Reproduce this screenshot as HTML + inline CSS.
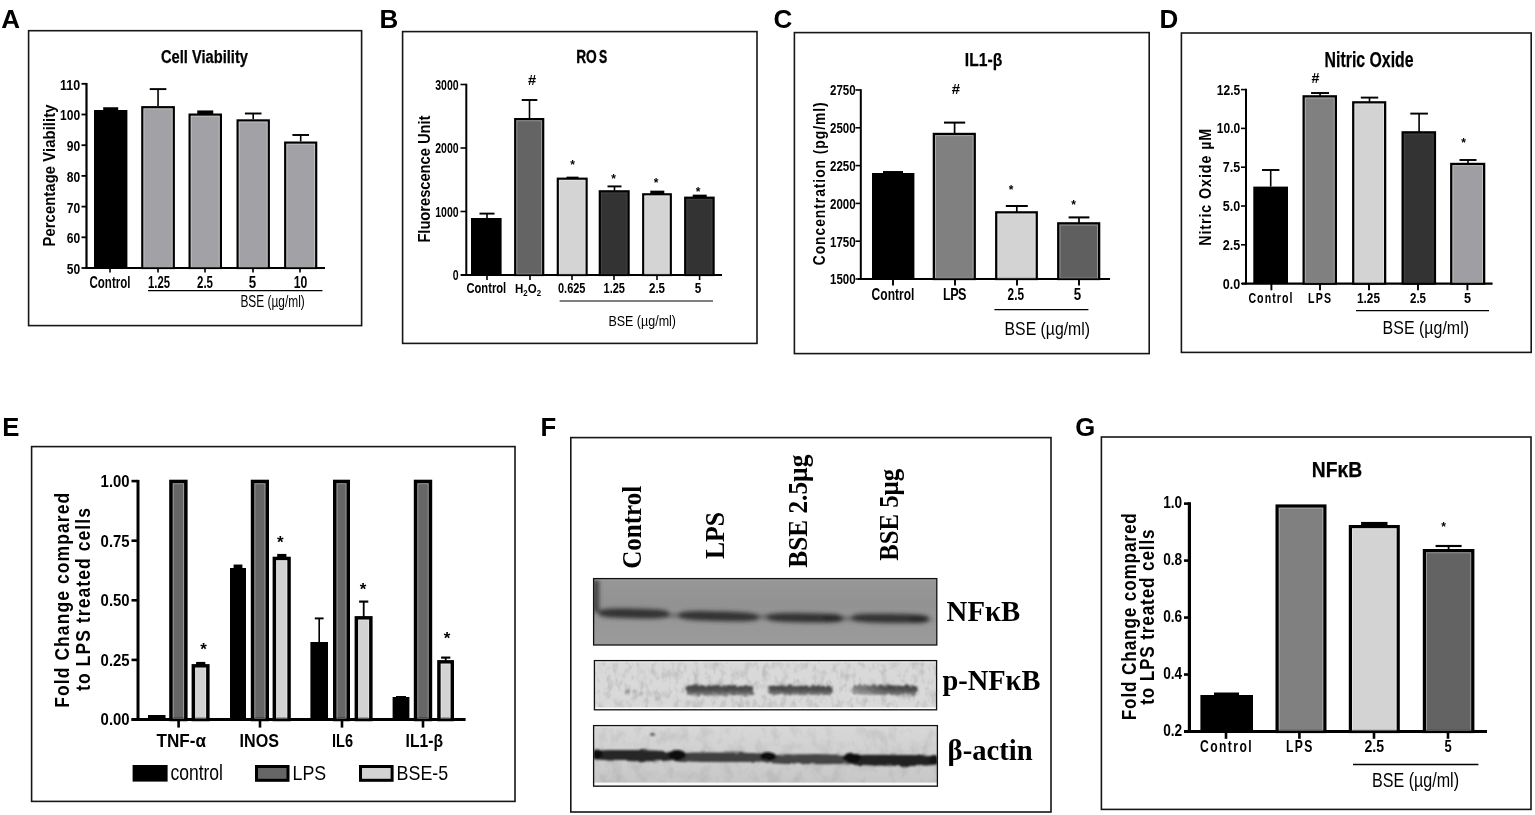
<!DOCTYPE html><html><head><meta charset="utf-8"><title>Figure</title>
<style>html,body{margin:0;padding:0;background:#fff;overflow:hidden}svg{display:block}</style></head><body>
<svg width="1535" height="815" viewBox="0 0 1535 815">
<defs>
<filter id="blur1" x="-20%" y="-50%" width="140%" height="200%"><feGaussianBlur stdDeviation="1.6"/></filter>
<filter id="blur2" x="-20%" y="-80%" width="140%" height="260%"><feGaussianBlur stdDeviation="2.2"/></filter>
<filter id="blur3" x="-20%" y="-80%" width="140%" height="260%"><feGaussianBlur stdDeviation="1.0"/></filter>
<filter id="noise1" x="0" y="0" width="100%" height="100%">
  <feTurbulence type="fractalNoise" baseFrequency="0.16 0.1" numOctaves="3" seed="7" result="n"/>
  <feColorMatrix type="matrix" values="0 0 0 0 0  0 0 0 0 0  0 0 0 0 0  0 0 0 -0.9 0.5" />
</filter>
<filter id="noise2" x="0" y="0" width="100%" height="100%">
  <feTurbulence type="fractalNoise" baseFrequency="0.09 0.07" numOctaves="3" seed="3" result="n"/>
  <feColorMatrix type="matrix" values="0 0 0 0 0  0 0 0 0 0  0 0 0 0 0  0 0 0 -0.9 0.5" />
</filter>
<filter id="rough" x="-5%" y="-60%" width="110%" height="220%">
  <feTurbulence type="fractalNoise" baseFrequency="0.25 0.45" numOctaves="2" seed="5" result="t"/>
  <feDisplacementMap in="SourceGraphic" in2="t" scale="5" xChannelSelector="R" yChannelSelector="G" result="d"/>
  <feGaussianBlur in="d" stdDeviation="0.9"/>
</filter>
<filter id="rough2" x="-5%" y="-60%" width="110%" height="220%">
  <feTurbulence type="fractalNoise" baseFrequency="0.08 0.3" numOctaves="2" seed="9" result="t"/>
  <feDisplacementMap in="SourceGraphic" in2="t" scale="3" xChannelSelector="R" yChannelSelector="G" result="d"/>
  <feGaussianBlur in="d" stdDeviation="1.1"/>
</filter>
<filter id="speck" x="-10%" y="-50%" width="120%" height="200%">
  <feTurbulence type="fractalNoise" baseFrequency="0.35 0.25" numOctaves="1" seed="11" result="n"/>
  <feComposite in="SourceGraphic" in2="n" operator="arithmetic" k1="1.6" k2="0" k3="0" k4="0" result="m"/>
  <feGaussianBlur in="m" stdDeviation="0.6"/>
</filter>
<clipPath id="cNF"><rect x="594.2" y="579.2" width="342" height="65.2"/></clipPath>
<clipPath id="cPN"><rect x="595" y="661.2" width="341" height="48"/></clipPath>
<clipPath id="cBA"><rect x="594.2" y="726.2" width="342.6" height="59.4"/></clipPath>
</defs>
<rect x="0" y="0" width="1535" height="815" fill="#fff"/>
<rect x="28.6" y="30.7" width="333.0" height="294.90000000000003" fill="none" stroke="#161616" stroke-width="1.6"/>
<text x="1.35" y="27.8" font-family="'Liberation Sans', Arial, sans-serif" font-size="26" font-weight="bold" fill="#000">A</text>
<text x="161" y="62.8" font-family="'Liberation Sans', Arial, sans-serif" font-size="19" font-weight="bold" fill="#000" textLength="87" lengthAdjust="spacingAndGlyphs" stroke="#000" stroke-width="0.25">Cell Viability</text>
<line x1="86.5" y1="83.00000000000001" x2="86.5" y2="269" stroke="#000" stroke-width="2.2" stroke-linecap="butt"/>
<line x1="81.5" y1="268.0" x2="86.5" y2="268.0" stroke="#000" stroke-width="1.8" stroke-linecap="butt"/>
<text x="80.2" y="273.9" font-family="'Liberation Sans', Arial, sans-serif" font-size="15.2" font-weight="bold" fill="#000" text-anchor="end" textLength="13.4" lengthAdjust="spacingAndGlyphs">50</text>
<line x1="81.5" y1="237.3" x2="86.5" y2="237.3" stroke="#000" stroke-width="1.8" stroke-linecap="butt"/>
<text x="80.2" y="243.20000000000002" font-family="'Liberation Sans', Arial, sans-serif" font-size="15.2" font-weight="bold" fill="#000" text-anchor="end" textLength="13.4" lengthAdjust="spacingAndGlyphs">60</text>
<line x1="81.5" y1="206.6" x2="86.5" y2="206.6" stroke="#000" stroke-width="1.8" stroke-linecap="butt"/>
<text x="80.2" y="212.5" font-family="'Liberation Sans', Arial, sans-serif" font-size="15.2" font-weight="bold" fill="#000" text-anchor="end" textLength="13.4" lengthAdjust="spacingAndGlyphs">70</text>
<line x1="81.5" y1="175.9" x2="86.5" y2="175.9" stroke="#000" stroke-width="1.8" stroke-linecap="butt"/>
<text x="80.2" y="181.8" font-family="'Liberation Sans', Arial, sans-serif" font-size="15.2" font-weight="bold" fill="#000" text-anchor="end" textLength="13.4" lengthAdjust="spacingAndGlyphs">80</text>
<line x1="81.5" y1="145.2" x2="86.5" y2="145.2" stroke="#000" stroke-width="1.8" stroke-linecap="butt"/>
<text x="80.2" y="151.1" font-family="'Liberation Sans', Arial, sans-serif" font-size="15.2" font-weight="bold" fill="#000" text-anchor="end" textLength="13.4" lengthAdjust="spacingAndGlyphs">90</text>
<line x1="81.5" y1="114.5" x2="86.5" y2="114.5" stroke="#000" stroke-width="1.8" stroke-linecap="butt"/>
<text x="80.2" y="120.4" font-family="'Liberation Sans', Arial, sans-serif" font-size="15.2" font-weight="bold" fill="#000" text-anchor="end" textLength="20.1" lengthAdjust="spacingAndGlyphs">100</text>
<line x1="81.5" y1="83.80000000000001" x2="86.5" y2="83.80000000000001" stroke="#000" stroke-width="1.8" stroke-linecap="butt"/>
<text x="80.2" y="89.70000000000002" font-family="'Liberation Sans', Arial, sans-serif" font-size="15.2" font-weight="bold" fill="#000" text-anchor="end" textLength="20.1" lengthAdjust="spacingAndGlyphs">110</text>
<line x1="85.5" y1="268" x2="325" y2="268" stroke="#000" stroke-width="2.2" stroke-linecap="butt"/>
<rect x="94" y="110" width="33.4" height="158" fill="#000"/>
<rect x="103.2" y="107.24" width="15.0" height="3.26" fill="#000"/>
<line x1="158.05" y1="106.1" x2="158.05" y2="89.1" stroke="#000" stroke-width="1.6" stroke-linecap="butt"/>
<line x1="149.75" y1="89.1" x2="166.35000000000002" y2="89.1" stroke="#000" stroke-width="1.92" stroke-linecap="butt"/>
<rect x="142.3" y="107.2" width="31.5" height="160.8" fill="#a1a1a6" stroke="#000" stroke-width="2.2"/>
<rect x="143.90" y="108.80" width="28.30" height="158.20" fill="none" stroke="#fff" stroke-opacity="0.35" stroke-width="1"/>
<rect x="197.25" y="110.44" width="16" height="3.56" fill="#000"/>
<rect x="189.6" y="114.6" width="31.3" height="153.4" fill="#a1a1a6" stroke="#000" stroke-width="2.2"/>
<rect x="191.20" y="116.20" width="28.10" height="150.80" fill="none" stroke="#fff" stroke-opacity="0.35" stroke-width="1"/>
<line x1="253.2" y1="119.3" x2="253.2" y2="113.5" stroke="#000" stroke-width="1.6" stroke-linecap="butt"/>
<line x1="244.89999999999998" y1="113.5" x2="261.5" y2="113.5" stroke="#000" stroke-width="1.92" stroke-linecap="butt"/>
<rect x="237.6" y="120.4" width="31.2" height="147.6" fill="#a1a1a6" stroke="#000" stroke-width="2.2"/>
<rect x="239.20" y="122.00" width="28.00" height="145.00" fill="none" stroke="#fff" stroke-opacity="0.35" stroke-width="1"/>
<line x1="300.70000000000005" y1="141.5" x2="300.70000000000005" y2="135" stroke="#000" stroke-width="1.6" stroke-linecap="butt"/>
<line x1="292.40000000000003" y1="135" x2="309.00000000000006" y2="135" stroke="#000" stroke-width="1.92" stroke-linecap="butt"/>
<rect x="285.2" y="142.6" width="31.0" height="125.4" fill="#a1a1a6" stroke="#000" stroke-width="2.2"/>
<rect x="286.80" y="144.20" width="27.80" height="122.80" fill="none" stroke="#fff" stroke-opacity="0.35" stroke-width="1"/>
<line x1="110" y1="268" x2="110" y2="272.5" stroke="#000" stroke-width="1.6" stroke-linecap="butt"/>
<line x1="158" y1="268" x2="158" y2="272.5" stroke="#000" stroke-width="1.6" stroke-linecap="butt"/>
<line x1="205" y1="268" x2="205" y2="272.5" stroke="#000" stroke-width="1.6" stroke-linecap="butt"/>
<line x1="253" y1="268" x2="253" y2="272.5" stroke="#000" stroke-width="1.6" stroke-linecap="butt"/>
<line x1="300" y1="268" x2="300" y2="272.5" stroke="#000" stroke-width="1.6" stroke-linecap="butt"/>
<text x="110" y="287.7" font-family="'Liberation Sans', Arial, sans-serif" font-size="15.6" font-weight="bold" fill="#000" text-anchor="middle" textLength="41" lengthAdjust="spacingAndGlyphs">Control</text>
<text x="159" y="287.7" font-family="'Liberation Sans', Arial, sans-serif" font-size="15.6" font-weight="bold" fill="#000" text-anchor="middle" textLength="22" lengthAdjust="spacingAndGlyphs">1.25</text>
<text x="205" y="287.7" font-family="'Liberation Sans', Arial, sans-serif" font-size="15.6" font-weight="bold" fill="#000" text-anchor="middle" textLength="16" lengthAdjust="spacingAndGlyphs">2.5</text>
<text x="252.5" y="287.7" font-family="'Liberation Sans', Arial, sans-serif" font-size="15.6" font-weight="bold" fill="#000" text-anchor="middle" textLength="7.4" lengthAdjust="spacingAndGlyphs">5</text>
<text x="300.5" y="287.7" font-family="'Liberation Sans', Arial, sans-serif" font-size="15.6" font-weight="bold" fill="#000" text-anchor="middle" textLength="13.6" lengthAdjust="spacingAndGlyphs">10</text>
<line x1="148" y1="290.6" x2="322.4" y2="290.6" stroke="#000" stroke-width="1.2" stroke-linecap="butt"/>
<text x="240.4" y="306.6" font-family="'Liberation Sans', Arial, sans-serif" font-size="15.6" font-weight="normal" fill="#000" textLength="64.4" lengthAdjust="spacingAndGlyphs">BSE (µg/ml)</text>
<text transform="translate(55.2,246.5) rotate(-90) scale(0.9,1)" x="0" y="0" font-family="'Liberation Sans', Arial, sans-serif" font-size="16.4" font-weight="bold" fill="#000" textLength="157.78" lengthAdjust="spacing">Percentage Viability</text>
<rect x="402.6" y="31.6" width="354.4" height="311.79999999999995" fill="none" stroke="#161616" stroke-width="1.6"/>
<text x="379.5" y="27.8" font-family="'Liberation Sans', Arial, sans-serif" font-size="26" font-weight="bold" fill="#000">B</text>
<text x="576.2" y="62.6" font-family="'Liberation Sans', Arial, sans-serif" font-size="17.6" font-weight="bold" fill="#000" textLength="20.6" lengthAdjust="spacingAndGlyphs" stroke="#000" stroke-width="0.35">RO</text>
<text x="598.9" y="62.6" font-family="'Liberation Sans', Arial, sans-serif" font-size="17.6" font-weight="bold" fill="#000" textLength="8.2" lengthAdjust="spacingAndGlyphs" stroke="#000" stroke-width="0.35">S</text>
<line x1="466.3" y1="83.7" x2="466.3" y2="276" stroke="#000" stroke-width="2" stroke-linecap="butt"/>
<line x1="460.5" y1="275.0" x2="466.3" y2="275.0" stroke="#000" stroke-width="1.6" stroke-linecap="butt"/>
<text x="458.6" y="280.1" font-family="'Liberation Sans', Arial, sans-serif" font-size="14.2" font-weight="bold" fill="#000" text-anchor="end" textLength="5.85" lengthAdjust="spacingAndGlyphs">0</text>
<line x1="460.5" y1="211.5" x2="466.3" y2="211.5" stroke="#000" stroke-width="1.6" stroke-linecap="butt"/>
<text x="458.6" y="216.6" font-family="'Liberation Sans', Arial, sans-serif" font-size="14.2" font-weight="bold" fill="#000" text-anchor="end" textLength="23.4" lengthAdjust="spacingAndGlyphs">1000</text>
<line x1="460.5" y1="148.0" x2="466.3" y2="148.0" stroke="#000" stroke-width="1.6" stroke-linecap="butt"/>
<text x="458.6" y="153.1" font-family="'Liberation Sans', Arial, sans-serif" font-size="14.2" font-weight="bold" fill="#000" text-anchor="end" textLength="23.4" lengthAdjust="spacingAndGlyphs">2000</text>
<line x1="460.5" y1="84.5" x2="466.3" y2="84.5" stroke="#000" stroke-width="1.6" stroke-linecap="butt"/>
<text x="458.6" y="89.6" font-family="'Liberation Sans', Arial, sans-serif" font-size="14.2" font-weight="bold" fill="#000" text-anchor="end" textLength="23.4" lengthAdjust="spacingAndGlyphs">3000</text>
<line x1="461" y1="275" x2="722" y2="275" stroke="#000" stroke-width="2" stroke-linecap="butt"/>
<rect x="471" y="218" width="30.6" height="57" fill="#000"/>
<line x1="487" y1="218" x2="487" y2="213.6" stroke="#000" stroke-width="1.6" stroke-linecap="butt"/>
<line x1="479.5" y1="213.6" x2="494.5" y2="213.6" stroke="#000" stroke-width="1.92" stroke-linecap="butt"/>
<line x1="529.5" y1="118.8" x2="529.5" y2="100" stroke="#000" stroke-width="1.6" stroke-linecap="butt"/>
<line x1="521.7" y1="100" x2="537.3" y2="100" stroke="#000" stroke-width="1.92" stroke-linecap="butt"/>
<rect x="515.2" y="119.1" width="28.0" height="155.9" fill="#646464" stroke="#000" stroke-width="2.2"/>
<rect x="516.80" y="120.70" width="24.80" height="153.30" fill="none" stroke="#fff" stroke-opacity="0.35" stroke-width="1"/>
<rect x="566.5" y="176.64" width="12" height="2.26" fill="#000"/>
<rect x="557.8" y="178.7" width="28.8" height="96.3" fill="#d4d4d4" stroke="#000" stroke-width="2.2"/>
<rect x="559.40" y="180.30" width="25.60" height="93.70" fill="none" stroke="#fff" stroke-opacity="0.35" stroke-width="1"/>
<line x1="614.5" y1="191" x2="614.5" y2="186.4" stroke="#000" stroke-width="1.6" stroke-linecap="butt"/>
<line x1="607.5" y1="186.4" x2="621.5" y2="186.4" stroke="#000" stroke-width="1.92" stroke-linecap="butt"/>
<rect x="599.8" y="191.3" width="28.8" height="83.7" fill="#333333" stroke="#000" stroke-width="2.2"/>
<rect x="601.40" y="192.90" width="25.60" height="81.10" fill="none" stroke="#fff" stroke-opacity="0.08" stroke-width="1"/>
<rect x="650.3" y="190.64" width="14" height="3.86" fill="#000"/>
<rect x="643.2" y="194.3" width="27.6" height="80.7" fill="#d4d4d4" stroke="#000" stroke-width="2.2"/>
<rect x="644.80" y="195.90" width="24.40" height="78.10" fill="none" stroke="#fff" stroke-opacity="0.35" stroke-width="1"/>
<rect x="692.7" y="194.64" width="14" height="3.26" fill="#000"/>
<rect x="685.2" y="197.7" width="28.4" height="77.3" fill="#333333" stroke="#000" stroke-width="2.2"/>
<rect x="686.80" y="199.30" width="25.20" height="74.70" fill="none" stroke="#fff" stroke-opacity="0.08" stroke-width="1"/>
<line x1="487" y1="275" x2="487" y2="280" stroke="#000" stroke-width="1.6" stroke-linecap="butt"/>
<line x1="530" y1="275" x2="530" y2="280" stroke="#000" stroke-width="1.6" stroke-linecap="butt"/>
<line x1="572" y1="275" x2="572" y2="280" stroke="#000" stroke-width="1.6" stroke-linecap="butt"/>
<line x1="614" y1="275" x2="614" y2="280" stroke="#000" stroke-width="1.6" stroke-linecap="butt"/>
<line x1="657" y1="275" x2="657" y2="280" stroke="#000" stroke-width="1.6" stroke-linecap="butt"/>
<line x1="699.6" y1="275" x2="699.6" y2="280" stroke="#000" stroke-width="1.6" stroke-linecap="butt"/>
<text x="532" y="84.6" font-family="'Liberation Sans', Arial, sans-serif" font-size="14.6" font-weight="bold" fill="#000" text-anchor="middle">#</text>
<text x="572.6" y="169.4" font-family="'Liberation Sans', Arial, sans-serif" font-size="12" font-weight="bold" fill="#000" text-anchor="middle">*</text>
<text x="613.6" y="183.4" font-family="'Liberation Sans', Arial, sans-serif" font-size="12" font-weight="bold" fill="#000" text-anchor="middle">*</text>
<text x="656" y="186.8" font-family="'Liberation Sans', Arial, sans-serif" font-size="12" font-weight="bold" fill="#000" text-anchor="middle">*</text>
<text x="698" y="196.4" font-family="'Liberation Sans', Arial, sans-serif" font-size="12" font-weight="bold" fill="#000" text-anchor="middle">*</text>
<text x="486.3" y="293.2" font-family="'Liberation Sans', Arial, sans-serif" font-size="14.2" font-weight="bold" fill="#000" text-anchor="middle" textLength="39.8" lengthAdjust="spacingAndGlyphs">Control</text>
<text x="515" y="293.4" font-family="'Liberation Sans', Arial, sans-serif" font-size="13.2" font-weight="bold" textLength="26" lengthAdjust="spacingAndGlyphs">H<tspan font-size="9" dy="2.5">2</tspan><tspan dy="-2.5">O</tspan><tspan font-size="9" dy="2.5">2</tspan></text>
<text x="571.7" y="293.2" font-family="'Liberation Sans', Arial, sans-serif" font-size="14.2" font-weight="bold" fill="#000" text-anchor="middle" textLength="27.4" lengthAdjust="spacingAndGlyphs">0.625</text>
<text x="614.3" y="293.2" font-family="'Liberation Sans', Arial, sans-serif" font-size="14.2" font-weight="bold" fill="#000" text-anchor="middle" textLength="21.4" lengthAdjust="spacingAndGlyphs">1.25</text>
<text x="657" y="293.2" font-family="'Liberation Sans', Arial, sans-serif" font-size="14.2" font-weight="bold" fill="#000" text-anchor="middle" textLength="16" lengthAdjust="spacingAndGlyphs">2.5</text>
<text x="698" y="293.2" font-family="'Liberation Sans', Arial, sans-serif" font-size="14.2" font-weight="bold" fill="#000" text-anchor="middle" textLength="6.5" lengthAdjust="spacingAndGlyphs">5</text>
<line x1="559.6" y1="301" x2="713" y2="301" stroke="#000" stroke-width="1.2" stroke-linecap="butt"/>
<text x="608.4" y="325.9" font-family="'Liberation Sans', Arial, sans-serif" font-size="15.4" font-weight="normal" fill="#000" textLength="67.6" lengthAdjust="spacingAndGlyphs">BSE (µg/ml)</text>
<text transform="translate(429.8,242.6) rotate(-90) scale(0.9,1)" x="0" y="0" font-family="'Liberation Sans', Arial, sans-serif" font-size="16.4" font-weight="bold" fill="#000" textLength="141.11" lengthAdjust="spacing">Fluorescence Unit</text>
<rect x="794.4" y="32.6" width="354.80000000000007" height="321.0" fill="none" stroke="#161616" stroke-width="1.6"/>
<text x="773.6" y="27.8" font-family="'Liberation Sans', Arial, sans-serif" font-size="26" font-weight="bold" fill="#000">C</text>
<text x="964.8" y="66.3" font-family="'Liberation Sans', Arial, sans-serif" font-size="18.6" font-weight="bold" fill="#000" textLength="37.4" lengthAdjust="spacingAndGlyphs" stroke="#000" stroke-width="0.25">IL1-β</text>
<line x1="860.8" y1="89.2" x2="860.8" y2="280" stroke="#000" stroke-width="2" stroke-linecap="butt"/>
<line x1="855.5" y1="279.0" x2="860.8" y2="279.0" stroke="#000" stroke-width="1.6" stroke-linecap="butt"/>
<text x="855.6" y="284.4" font-family="'Liberation Sans', Arial, sans-serif" font-size="14.7" font-weight="bold" fill="#000" text-anchor="end" textLength="25.6" lengthAdjust="spacingAndGlyphs">1500</text>
<line x1="855.5" y1="241.2" x2="860.8" y2="241.2" stroke="#000" stroke-width="1.6" stroke-linecap="butt"/>
<text x="855.6" y="246.6" font-family="'Liberation Sans', Arial, sans-serif" font-size="14.7" font-weight="bold" fill="#000" text-anchor="end" textLength="25.6" lengthAdjust="spacingAndGlyphs">1750</text>
<line x1="855.5" y1="203.4" x2="860.8" y2="203.4" stroke="#000" stroke-width="1.6" stroke-linecap="butt"/>
<text x="855.6" y="208.8" font-family="'Liberation Sans', Arial, sans-serif" font-size="14.7" font-weight="bold" fill="#000" text-anchor="end" textLength="25.6" lengthAdjust="spacingAndGlyphs">2000</text>
<line x1="855.5" y1="165.60000000000002" x2="860.8" y2="165.60000000000002" stroke="#000" stroke-width="1.6" stroke-linecap="butt"/>
<text x="855.6" y="171.00000000000003" font-family="'Liberation Sans', Arial, sans-serif" font-size="14.7" font-weight="bold" fill="#000" text-anchor="end" textLength="25.6" lengthAdjust="spacingAndGlyphs">2250</text>
<line x1="855.5" y1="127.80000000000001" x2="860.8" y2="127.80000000000001" stroke="#000" stroke-width="1.6" stroke-linecap="butt"/>
<text x="855.6" y="133.20000000000002" font-family="'Liberation Sans', Arial, sans-serif" font-size="14.7" font-weight="bold" fill="#000" text-anchor="end" textLength="25.6" lengthAdjust="spacingAndGlyphs">2500</text>
<line x1="855.5" y1="90.0" x2="860.8" y2="90.0" stroke="#000" stroke-width="1.6" stroke-linecap="butt"/>
<text x="855.6" y="95.4" font-family="'Liberation Sans', Arial, sans-serif" font-size="14.7" font-weight="bold" fill="#000" text-anchor="end" textLength="25.6" lengthAdjust="spacingAndGlyphs">2750</text>
<line x1="858" y1="279" x2="1110" y2="279" stroke="#000" stroke-width="2.2" stroke-linecap="butt"/>
<rect x="872" y="173" width="42.4" height="106" fill="#000"/>
<rect x="883" y="171.04" width="20" height="2.46" fill="#000"/>
<line x1="954.6" y1="133.6" x2="954.6" y2="122.6" stroke="#000" stroke-width="1.7" stroke-linecap="butt"/>
<line x1="944.0" y1="122.6" x2="965.2" y2="122.6" stroke="#000" stroke-width="2.04" stroke-linecap="butt"/>
<rect x="933.85" y="133.95" width="40.9" height="145.05" fill="#808080" stroke="#000" stroke-width="2.3"/>
<rect x="935.50" y="135.60" width="37.60" height="142.40" fill="none" stroke="#fff" stroke-opacity="0.35" stroke-width="1"/>
<line x1="1016.8" y1="212" x2="1016.8" y2="206" stroke="#000" stroke-width="1.7" stroke-linecap="butt"/>
<line x1="1005.8" y1="206" x2="1027.8" y2="206" stroke="#000" stroke-width="2.04" stroke-linecap="butt"/>
<rect x="996.25" y="212.35" width="40.5" height="66.65" fill="#d3d3d3" stroke="#000" stroke-width="2.3"/>
<rect x="997.90" y="214.00" width="37.20" height="64.00" fill="none" stroke="#fff" stroke-opacity="0.35" stroke-width="1"/>
<line x1="1079.0" y1="223" x2="1079.0" y2="217.4" stroke="#000" stroke-width="1.7" stroke-linecap="butt"/>
<line x1="1068.6" y1="217.4" x2="1089.4" y2="217.4" stroke="#000" stroke-width="2.04" stroke-linecap="butt"/>
<rect x="1058.25" y="223.35" width="40.9" height="55.65" fill="#5f5f5f" stroke="#000" stroke-width="2.3"/>
<rect x="1059.90" y="225.00" width="37.60" height="53.00" fill="none" stroke="#fff" stroke-opacity="0.35" stroke-width="1"/>
<line x1="893" y1="279" x2="893" y2="285.5" stroke="#000" stroke-width="1.9" stroke-linecap="butt"/>
<line x1="955" y1="279" x2="955" y2="285.5" stroke="#000" stroke-width="1.9" stroke-linecap="butt"/>
<line x1="1017" y1="279" x2="1017" y2="285.5" stroke="#000" stroke-width="1.9" stroke-linecap="butt"/>
<line x1="1079" y1="279" x2="1079" y2="285.5" stroke="#000" stroke-width="1.9" stroke-linecap="butt"/>
<text x="955.8" y="94.4" font-family="'Liberation Sans', Arial, sans-serif" font-size="14.9" font-weight="bold" fill="#000" text-anchor="middle">#</text>
<text x="1011" y="193.5" font-family="'Liberation Sans', Arial, sans-serif" font-size="12" font-weight="bold" fill="#000" text-anchor="middle">*</text>
<text x="1073.6" y="209.4" font-family="'Liberation Sans', Arial, sans-serif" font-size="12" font-weight="bold" fill="#000" text-anchor="middle">*</text>
<text x="893" y="299.9" font-family="'Liberation Sans', Arial, sans-serif" font-size="15.8" font-weight="bold" fill="#000" text-anchor="middle" textLength="42.8" lengthAdjust="spacingAndGlyphs">Control</text>
<text transform="translate(954.7,299.9) scale(0.8,1)" x="0" y="0" font-family="'Liberation Sans', Arial, sans-serif" font-size="15.8" font-weight="bold" fill="#000" text-anchor="middle" textLength="29.25" lengthAdjust="spacing">LPS</text>
<text x="1015.8" y="299.9" font-family="'Liberation Sans', Arial, sans-serif" font-size="15.8" font-weight="bold" fill="#000" text-anchor="middle" textLength="16.4" lengthAdjust="spacingAndGlyphs">2.5</text>
<text x="1077.5" y="299.9" font-family="'Liberation Sans', Arial, sans-serif" font-size="15.8" font-weight="bold" fill="#000" text-anchor="middle" textLength="7.4" lengthAdjust="spacingAndGlyphs">5</text>
<line x1="994.4" y1="309.6" x2="1088.4" y2="309.6" stroke="#000" stroke-width="1.4" stroke-linecap="butt"/>
<text x="1004.6" y="335" font-family="'Liberation Sans', Arial, sans-serif" font-size="18.5" font-weight="normal" fill="#000" textLength="85.4" lengthAdjust="spacingAndGlyphs">BSE (µg/ml)</text>
<text transform="translate(824.5,265.3) rotate(-90) scale(0.84,1)" x="0" y="0" font-family="'Liberation Sans', Arial, sans-serif" font-size="16.5" font-weight="bold" fill="#000" textLength="194.05" lengthAdjust="spacing">Concentration (pg/ml)</text>
<rect x="1181.4" y="33" width="349.79999999999995" height="319.4" fill="none" stroke="#161616" stroke-width="1.6"/>
<text x="1159.5" y="27.8" font-family="'Liberation Sans', Arial, sans-serif" font-size="26" font-weight="bold" fill="#000">D</text>
<text x="1324.6" y="66.9" font-family="'Liberation Sans', Arial, sans-serif" font-size="21.2" font-weight="bold" fill="#000" textLength="89" lengthAdjust="spacingAndGlyphs" stroke="#000" stroke-width="0.25">Nitric Oxide</text>
<line x1="1246" y1="88.80000000000003" x2="1246" y2="284.6" stroke="#000" stroke-width="2" stroke-linecap="butt"/>
<line x1="1241" y1="283.6" x2="1246" y2="283.6" stroke="#000" stroke-width="1.6" stroke-linecap="butt"/>
<text x="1240.2" y="288.5" font-family="'Liberation Sans', Arial, sans-serif" font-size="14.6" font-weight="bold" fill="#000" text-anchor="end" textLength="17.4" lengthAdjust="spacingAndGlyphs">0.0</text>
<line x1="1241" y1="244.8" x2="1246" y2="244.8" stroke="#000" stroke-width="1.6" stroke-linecap="butt"/>
<text x="1240.2" y="249.70000000000002" font-family="'Liberation Sans', Arial, sans-serif" font-size="14.6" font-weight="bold" fill="#000" text-anchor="end" textLength="17.4" lengthAdjust="spacingAndGlyphs">2.5</text>
<line x1="1241" y1="206.00000000000003" x2="1246" y2="206.00000000000003" stroke="#000" stroke-width="1.6" stroke-linecap="butt"/>
<text x="1240.2" y="210.90000000000003" font-family="'Liberation Sans', Arial, sans-serif" font-size="14.6" font-weight="bold" fill="#000" text-anchor="end" textLength="17.4" lengthAdjust="spacingAndGlyphs">5.0</text>
<line x1="1241" y1="167.20000000000005" x2="1246" y2="167.20000000000005" stroke="#000" stroke-width="1.6" stroke-linecap="butt"/>
<text x="1240.2" y="172.10000000000005" font-family="'Liberation Sans', Arial, sans-serif" font-size="14.6" font-weight="bold" fill="#000" text-anchor="end" textLength="17.4" lengthAdjust="spacingAndGlyphs">7.5</text>
<line x1="1241" y1="128.40000000000003" x2="1246" y2="128.40000000000003" stroke="#000" stroke-width="1.6" stroke-linecap="butt"/>
<text x="1240.2" y="133.30000000000004" font-family="'Liberation Sans', Arial, sans-serif" font-size="14.6" font-weight="bold" fill="#000" text-anchor="end" textLength="23.4" lengthAdjust="spacingAndGlyphs">10.0</text>
<line x1="1241" y1="89.60000000000002" x2="1246" y2="89.60000000000002" stroke="#000" stroke-width="1.6" stroke-linecap="butt"/>
<text x="1240.2" y="94.50000000000003" font-family="'Liberation Sans', Arial, sans-serif" font-size="14.6" font-weight="bold" fill="#000" text-anchor="end" textLength="23.4" lengthAdjust="spacingAndGlyphs">12.5</text>
<line x1="1242" y1="283.6" x2="1492.6" y2="283.6" stroke="#000" stroke-width="2.2" stroke-linecap="butt"/>
<rect x="1253.3" y="186.6" width="34.7" height="97" fill="#000"/>
<line x1="1270.7" y1="186.6" x2="1270.7" y2="170" stroke="#000" stroke-width="1.6" stroke-linecap="butt"/>
<line x1="1262.0" y1="170" x2="1279.4" y2="170" stroke="#000" stroke-width="1.92" stroke-linecap="butt"/>
<line x1="1320.0500000000002" y1="96" x2="1320.0500000000002" y2="93" stroke="#000" stroke-width="1.6" stroke-linecap="butt"/>
<line x1="1311.0500000000002" y1="93" x2="1329.0500000000002" y2="93" stroke="#000" stroke-width="1.92" stroke-linecap="butt"/>
<rect x="1303.65" y="96.35" width="32.2" height="187.25" fill="#808080" stroke="#000" stroke-width="2.3"/>
<rect x="1305.30" y="98.00" width="28.90" height="184.60" fill="none" stroke="#fff" stroke-opacity="0.35" stroke-width="1"/>
<line x1="1369.5" y1="102" x2="1369.5" y2="97.6" stroke="#000" stroke-width="1.6" stroke-linecap="butt"/>
<line x1="1360.8" y1="97.6" x2="1378.2" y2="97.6" stroke="#000" stroke-width="1.92" stroke-linecap="butt"/>
<rect x="1353.25" y="102.35" width="31.9" height="181.25" fill="#d3d3d3" stroke="#000" stroke-width="2.3"/>
<rect x="1354.90" y="104.00" width="28.60" height="178.60" fill="none" stroke="#fff" stroke-opacity="0.35" stroke-width="1"/>
<line x1="1419.1" y1="132" x2="1419.1" y2="113.6" stroke="#000" stroke-width="1.6" stroke-linecap="butt"/>
<line x1="1410.3" y1="113.6" x2="1427.8999999999999" y2="113.6" stroke="#000" stroke-width="1.92" stroke-linecap="butt"/>
<rect x="1402.65" y="132.35" width="32.3" height="151.25" fill="#333333" stroke="#000" stroke-width="2.3"/>
<rect x="1404.30" y="134.00" width="29.00" height="148.60" fill="none" stroke="#fff" stroke-opacity="0.08" stroke-width="1"/>
<line x1="1468.0" y1="163.6" x2="1468.0" y2="160" stroke="#000" stroke-width="1.6" stroke-linecap="butt"/>
<line x1="1459.5" y1="160" x2="1476.5" y2="160" stroke="#000" stroke-width="1.92" stroke-linecap="butt"/>
<rect x="1451.25" y="163.95" width="32.9" height="119.65" fill="#9e9ea3" stroke="#000" stroke-width="2.3"/>
<rect x="1452.90" y="165.60" width="29.60" height="117.00" fill="none" stroke="#fff" stroke-opacity="0.35" stroke-width="1"/>
<line x1="1271.4" y1="283.6" x2="1271.4" y2="290.3" stroke="#000" stroke-width="1.9" stroke-linecap="butt"/>
<line x1="1320" y1="283.6" x2="1320" y2="290.3" stroke="#000" stroke-width="1.9" stroke-linecap="butt"/>
<line x1="1369" y1="283.6" x2="1369" y2="290.3" stroke="#000" stroke-width="1.9" stroke-linecap="butt"/>
<line x1="1418" y1="283.6" x2="1418" y2="290.3" stroke="#000" stroke-width="1.9" stroke-linecap="butt"/>
<line x1="1467.4" y1="283.6" x2="1467.4" y2="290.3" stroke="#000" stroke-width="1.9" stroke-linecap="butt"/>
<text x="1315.5" y="83" font-family="'Liberation Sans', Arial, sans-serif" font-size="14.3" font-weight="bold" fill="#000" text-anchor="middle">#</text>
<text x="1463.6" y="147.4" font-family="'Liberation Sans', Arial, sans-serif" font-size="12" font-weight="bold" fill="#000" text-anchor="middle">*</text>
<text transform="translate(1270.4,303.3) scale(0.7,1)" x="0" y="0" font-family="'Liberation Sans', Arial, sans-serif" font-size="15.2" font-weight="bold" fill="#000" text-anchor="middle" textLength="62.86" lengthAdjust="spacing">Control</text>
<text transform="translate(1319.5,303.3) scale(0.7,1)" x="0" y="0" font-family="'Liberation Sans', Arial, sans-serif" font-size="15.2" font-weight="bold" fill="#000" text-anchor="middle" textLength="32.86" lengthAdjust="spacing">LPS</text>
<text x="1368.5" y="303.3" font-family="'Liberation Sans', Arial, sans-serif" font-size="15.2" font-weight="bold" fill="#000" text-anchor="middle" textLength="23" lengthAdjust="spacingAndGlyphs">1.25</text>
<text x="1418" y="303.3" font-family="'Liberation Sans', Arial, sans-serif" font-size="15.2" font-weight="bold" fill="#000" text-anchor="middle" textLength="16" lengthAdjust="spacingAndGlyphs">2.5</text>
<text x="1467.5" y="303.3" font-family="'Liberation Sans', Arial, sans-serif" font-size="15.2" font-weight="bold" fill="#000" text-anchor="middle" textLength="7" lengthAdjust="spacingAndGlyphs">5</text>
<line x1="1356" y1="310.6" x2="1489" y2="310.6" stroke="#000" stroke-width="1.3" stroke-linecap="butt"/>
<text x="1382.6" y="333.6" font-family="'Liberation Sans', Arial, sans-serif" font-size="19" font-weight="normal" fill="#000" textLength="86.4" lengthAdjust="spacingAndGlyphs">BSE (µg/ml)</text>
<text transform="translate(1210.8,245.8) rotate(-90) scale(0.84,1)" x="0" y="0" font-family="'Liberation Sans', Arial, sans-serif" font-size="17" font-weight="bold" fill="#000" textLength="139.29" lengthAdjust="spacing">Nitric Oxide µM</text>
<rect x="31.6" y="446.6" width="483.4" height="354.79999999999995" fill="none" stroke="#161616" stroke-width="1.6"/>
<text x="2.3" y="435.7" font-family="'Liberation Sans', Arial, sans-serif" font-size="25.7" font-weight="bold" fill="#000">E</text>
<line x1="138" y1="479.90000000000003" x2="138" y2="721" stroke="#000" stroke-width="3" stroke-linecap="butt"/>
<line x1="131.5" y1="719.5" x2="138" y2="719.5" stroke="#000" stroke-width="2.6" stroke-linecap="butt"/>
<text x="129.6" y="725.3" font-family="'Liberation Sans', Arial, sans-serif" font-size="16.3" font-weight="bold" fill="#000" text-anchor="end" textLength="29" lengthAdjust="spacingAndGlyphs">0.00</text>
<line x1="131.5" y1="659.9" x2="138" y2="659.9" stroke="#000" stroke-width="2.6" stroke-linecap="butt"/>
<text x="129.6" y="665.6999999999999" font-family="'Liberation Sans', Arial, sans-serif" font-size="16.3" font-weight="bold" fill="#000" text-anchor="end" textLength="29" lengthAdjust="spacingAndGlyphs">0.25</text>
<line x1="131.5" y1="600.3" x2="138" y2="600.3" stroke="#000" stroke-width="2.6" stroke-linecap="butt"/>
<text x="129.6" y="606.0999999999999" font-family="'Liberation Sans', Arial, sans-serif" font-size="16.3" font-weight="bold" fill="#000" text-anchor="end" textLength="29" lengthAdjust="spacingAndGlyphs">0.50</text>
<line x1="131.5" y1="540.7" x2="138" y2="540.7" stroke="#000" stroke-width="2.6" stroke-linecap="butt"/>
<text x="129.6" y="546.5" font-family="'Liberation Sans', Arial, sans-serif" font-size="16.3" font-weight="bold" fill="#000" text-anchor="end" textLength="29" lengthAdjust="spacingAndGlyphs">0.75</text>
<line x1="131.5" y1="481.1" x2="138" y2="481.1" stroke="#000" stroke-width="2.6" stroke-linecap="butt"/>
<text x="129.6" y="486.90000000000003" font-family="'Liberation Sans', Arial, sans-serif" font-size="16.3" font-weight="bold" fill="#000" text-anchor="end" textLength="29" lengthAdjust="spacingAndGlyphs">1.00</text>
<line x1="131.5" y1="719.5" x2="465.6" y2="719.5" stroke="#000" stroke-width="3" stroke-linecap="butt"/>
<rect x="148" y="715" width="17.5" height="4.5" fill="#000"/>
<rect x="170.95" y="481.45" width="14.9" height="238.05" fill="#666666" stroke="#000" stroke-width="3.5"/>
<rect x="173.20" y="483.70" width="10.40" height="234.80" fill="none" stroke="#fff" stroke-opacity="0.35" stroke-width="1"/>
<rect x="196.1" y="661.92" width="9.2" height="3.58" fill="#000"/>
<rect x="193.35" y="665.85" width="14.5" height="53.65" fill="#d3d3d3" stroke="#000" stroke-width="3.5"/>
<rect x="195.60" y="668.10" width="10.00" height="50.40" fill="none" stroke="#fff" stroke-opacity="0.35" stroke-width="1"/>
<text x="203.6" y="655.2" font-family="'Liberation Sans', Arial, sans-serif" font-size="17" font-weight="bold" fill="#000" text-anchor="middle">*</text>
<rect x="233.6" y="564.54" width="8.8" height="3.96" fill="#000"/>
<rect x="230" y="568" width="16" height="151.5" fill="#000"/>
<rect x="252.55" y="481.45" width="14.7" height="238.05" fill="#666666" stroke="#000" stroke-width="3.5"/>
<rect x="254.80" y="483.70" width="10.20" height="234.80" fill="none" stroke="#fff" stroke-opacity="0.35" stroke-width="1"/>
<rect x="277.2" y="553.92" width="9.2" height="4.18" fill="#000"/>
<rect x="274.35" y="558.45" width="14.7" height="161.05" fill="#d3d3d3" stroke="#000" stroke-width="3.5"/>
<rect x="276.60" y="560.70" width="10.20" height="157.80" fill="none" stroke="#fff" stroke-opacity="0.35" stroke-width="1"/>
<text x="280.4" y="548.2" font-family="'Liberation Sans', Arial, sans-serif" font-size="17" font-weight="bold" fill="#000" text-anchor="middle">*</text>
<line x1="319.2" y1="642" x2="319.2" y2="618.4" stroke="#000" stroke-width="1.6" stroke-linecap="butt"/>
<line x1="314.8" y1="618.4" x2="323.59999999999997" y2="618.4" stroke="#000" stroke-width="1.92" stroke-linecap="butt"/>
<rect x="310.4" y="642" width="17.600000000000023" height="77.5" fill="#000"/>
<rect x="334.75" y="481.45" width="13.5" height="238.05" fill="#666666" stroke="#000" stroke-width="3.5"/>
<rect x="337.00" y="483.70" width="9.00" height="234.80" fill="none" stroke="#fff" stroke-opacity="0.35" stroke-width="1"/>
<line x1="363.7" y1="617" x2="363.7" y2="601.6" stroke="#000" stroke-width="1.8" stroke-linecap="butt"/>
<line x1="359.09999999999997" y1="601.6" x2="368.3" y2="601.6" stroke="#000" stroke-width="2.16" stroke-linecap="butt"/>
<rect x="356.35" y="617.85" width="14.5" height="101.65" fill="#d3d3d3" stroke="#000" stroke-width="3.5"/>
<rect x="358.60" y="620.10" width="10.00" height="98.40" fill="none" stroke="#fff" stroke-opacity="0.35" stroke-width="1"/>
<text x="363" y="595.2" font-family="'Liberation Sans', Arial, sans-serif" font-size="17" font-weight="bold" fill="#000" text-anchor="middle">*</text>
<rect x="392.6" y="697" width="16.799999999999955" height="22.5" fill="#000"/>
<rect x="396.0" y="696" width="10" height="3" fill="#000"/>
<rect x="415.55" y="481.45" width="14.9" height="238.05" fill="#666666" stroke="#000" stroke-width="3.5"/>
<rect x="417.80" y="483.70" width="10.40" height="234.80" fill="none" stroke="#fff" stroke-opacity="0.35" stroke-width="1"/>
<line x1="445.70000000000005" y1="661" x2="445.70000000000005" y2="657.6" stroke="#000" stroke-width="1.8" stroke-linecap="butt"/>
<line x1="441.1" y1="657.6" x2="450.30000000000007" y2="657.6" stroke="#000" stroke-width="2.16" stroke-linecap="butt"/>
<rect x="438.95" y="661.85" width="13.3" height="57.65" fill="#d3d3d3" stroke="#000" stroke-width="3.5"/>
<rect x="441.20" y="664.10" width="8.80" height="54.40" fill="none" stroke="#fff" stroke-opacity="0.35" stroke-width="1"/>
<text x="447" y="644.2" font-family="'Liberation Sans', Arial, sans-serif" font-size="17" font-weight="bold" fill="#000" text-anchor="middle">*</text>
<line x1="178.6" y1="719.5" x2="178.6" y2="727.6" stroke="#000" stroke-width="2.6" stroke-linecap="butt"/>
<line x1="260" y1="719.5" x2="260" y2="727.6" stroke="#000" stroke-width="2.6" stroke-linecap="butt"/>
<line x1="342" y1="719.5" x2="342" y2="727.6" stroke="#000" stroke-width="2.6" stroke-linecap="butt"/>
<line x1="423" y1="719.5" x2="423" y2="727.6" stroke="#000" stroke-width="2.6" stroke-linecap="butt"/>
<text x="156.6" y="746.9" font-family="'Liberation Sans', Arial, sans-serif" font-size="18.6" font-weight="bold" fill="#000" textLength="49.4" lengthAdjust="spacingAndGlyphs">TNF-α</text>
<text x="239.6" y="746.9" font-family="'Liberation Sans', Arial, sans-serif" font-size="18.6" font-weight="bold" fill="#000" textLength="39.4" lengthAdjust="spacingAndGlyphs">INOS</text>
<text x="332" y="746.9" font-family="'Liberation Sans', Arial, sans-serif" font-size="18.6" font-weight="bold" fill="#000" textLength="21" lengthAdjust="spacingAndGlyphs">IL6</text>
<text x="405.6" y="746.9" font-family="'Liberation Sans', Arial, sans-serif" font-size="18.6" font-weight="bold" fill="#000" textLength="37.4" lengthAdjust="spacingAndGlyphs">IL1-β</text>
<rect x="132.6" y="765" width="35" height="16.6" fill="#000"/>
<text x="170.4" y="779.5" font-family="'Liberation Sans', Arial, sans-serif" font-size="21.2" font-weight="normal" fill="#000" textLength="52.6" lengthAdjust="spacingAndGlyphs">control</text>
<rect x="256.5" y="766.5" width="31.5" height="13.8" fill="#666666" stroke="#000" stroke-width="3"/>
<text x="292.6" y="779.5" font-family="'Liberation Sans', Arial, sans-serif" font-size="20.6" font-weight="normal" fill="#000" textLength="33.6" lengthAdjust="spacingAndGlyphs">LPS</text>
<rect x="360.5" y="766.5" width="31.6" height="13.8" fill="#d3d3d3" stroke="#000" stroke-width="3"/>
<text x="396.6" y="779.5" font-family="'Liberation Sans', Arial, sans-serif" font-size="20.6" font-weight="normal" fill="#000" textLength="51.6" lengthAdjust="spacingAndGlyphs">BSE-5</text>
<text transform="translate(68.8,707.8) rotate(-90) scale(0.86,1)" x="0" y="0" font-family="'Liberation Sans', Arial, sans-serif" font-size="20.4" font-weight="bold" fill="#000" textLength="250.00" lengthAdjust="spacing">Fold Change compared</text>
<text transform="translate(90.4,691) rotate(-90) scale(0.86,1)" x="0" y="0" font-family="'Liberation Sans', Arial, sans-serif" font-size="20.4" font-weight="bold" fill="#000" textLength="212.79" lengthAdjust="spacing">to LPS treated cells</text>
<rect x="570.8" y="437.6" width="480.20000000000005" height="374.4" fill="none" stroke="#161616" stroke-width="1.6"/>
<text x="540.5" y="435.7" font-family="'Liberation Sans', Arial, sans-serif" font-size="25.7" font-weight="bold" fill="#000">F</text>
<text transform="translate(641,568.8) rotate(-90)" x="0" y="0" font-family="'Liberation Serif', 'Times New Roman', serif" font-size="27.6" font-weight="bold" fill="#000" textLength="83" lengthAdjust="spacingAndGlyphs">Control</text>
<text transform="translate(724.3,559) rotate(-90)" x="0" y="0" font-family="'Liberation Serif', 'Times New Roman', serif" font-size="27.6" font-weight="bold" fill="#000" textLength="47" lengthAdjust="spacingAndGlyphs">LPS</text>
<text transform="translate(806.5,567.7) rotate(-90)" x="0" y="0" font-family="'Liberation Serif', 'Times New Roman', serif" font-size="27.6" font-weight="bold" fill="#000" textLength="113" lengthAdjust="spacingAndGlyphs">BSE 2.5µg</text>
<text transform="translate(897.5,560.8) rotate(-90)" x="0" y="0" font-family="'Liberation Serif', 'Times New Roman', serif" font-size="27.6" font-weight="bold" fill="#000" textLength="92" lengthAdjust="spacingAndGlyphs">BSE 5µg</text>
<linearGradient id="gNF" x1="0" y1="0" x2="0" y2="1"><stop offset="0" stop-color="#979797"/><stop offset="0.4" stop-color="#929292"/><stop offset="0.6" stop-color="#979797"/><stop offset="1" stop-color="#9b9b9b"/></linearGradient>
<rect x="593.6" y="578.6" width="343.2" height="66.4" fill="url(#gNF)"/>
<g clip-path="url(#cNF)"><g filter="url(#blur2)">
<path d="M596.0,614.0 L604.6,613.5 L613.2,613.3 L621.8,613.3 L630.4,613.3 L639.0,613.3 L647.6,613.3 L656.2,613.4 L664.8,613.4 L673.4,613.5 L682.0,613.6 L690.6,613.7 L699.2,613.8 L707.8,613.9 L716.4,614.0 L725.0,614.1 L733.6,614.2 L742.2,614.4 L750.8,614.5 L759.4,614.7 L768.0,614.8 L776.6,615.0 L785.2,615.1 L793.8,615.3 L802.4,615.4 L811.0,615.6 L819.6,615.8 L828.2,616.0 L836.8,616.2 L845.4,616.4 L854.0,616.6 L862.6,616.8 L871.2,617.0 L879.8,617.3 L888.4,617.5 L897.0,617.8 L905.6,618.1 L914.2,618.4 L922.8,618.7 L931.4,619.2 L940.0,620.0 L940.0,620.0 L931.4,620.5 L922.8,620.7 L914.2,620.7 L905.6,620.7 L897.0,620.7 L888.4,620.7 L879.8,620.6 L871.2,620.6 L862.6,620.5 L854.0,620.4 L845.4,620.3 L836.8,620.2 L828.2,620.1 L819.6,620.0 L811.0,619.9 L802.4,619.8 L793.8,619.6 L785.2,619.5 L776.6,619.3 L768.0,619.2 L759.4,619.0 L750.8,618.9 L742.2,618.7 L733.6,618.6 L725.0,618.4 L716.4,618.2 L707.8,618.0 L699.2,617.8 L690.6,617.6 L682.0,617.4 L673.4,617.2 L664.8,617.0 L656.2,616.7 L647.6,616.5 L639.0,616.2 L630.4,615.9 L621.8,615.6 L613.2,615.3 L604.6,614.8 L596.0,614.0 Z" fill="#555" opacity="0.8" />
<path d="M598.0,612.8 L599.8,610.3 L601.6,609.8 L603.4,609.4 L605.2,609.2 L607.0,609.0 L608.8,608.8 L610.6,608.7 L612.4,608.7 L614.2,608.6 L616.0,608.6 L617.8,608.5 L619.6,608.5 L621.4,608.5 L623.2,608.5 L625.0,608.6 L626.8,608.6 L628.6,608.6 L630.4,608.6 L632.2,608.7 L634.0,608.7 L635.8,608.7 L637.6,608.8 L639.4,608.8 L641.2,608.9 L643.0,608.9 L644.8,609.0 L646.6,609.0 L648.4,609.1 L650.2,609.2 L652.0,609.3 L653.8,609.4 L655.6,609.5 L657.4,609.6 L659.2,609.8 L661.0,610.0 L662.8,610.3 L664.6,610.6 L666.4,611.0 L668.2,611.7 L670.0,614.2 L670.0,614.2 L668.2,616.7 L666.4,617.2 L664.6,617.6 L662.8,617.8 L661.0,618.0 L659.2,618.2 L657.4,618.3 L655.6,618.3 L653.8,618.4 L652.0,618.4 L650.2,618.5 L648.4,618.5 L646.6,618.5 L644.8,618.5 L643.0,618.4 L641.2,618.4 L639.4,618.4 L637.6,618.4 L635.8,618.3 L634.0,618.3 L632.2,618.3 L630.4,618.2 L628.6,618.2 L626.8,618.1 L625.0,618.1 L623.2,618.0 L621.4,618.0 L619.6,617.9 L617.8,617.8 L616.0,617.7 L614.2,617.6 L612.4,617.5 L610.6,617.4 L608.8,617.2 L607.0,617.0 L605.2,616.7 L603.4,616.4 L601.6,616.0 L599.8,615.3 L598.0,612.8 Z" fill="#303030" opacity="1.0" />
<path d="M678.0,615.2 L680.0,612.7 L682.0,612.2 L684.1,611.9 L686.1,611.6 L688.1,611.5 L690.1,611.3 L692.2,611.2 L694.2,611.2 L696.2,611.1 L698.2,611.1 L700.3,611.1 L702.3,611.1 L704.3,611.1 L706.4,611.1 L708.4,611.2 L710.4,611.2 L712.4,611.3 L714.5,611.3 L716.5,611.4 L718.5,611.4 L720.5,611.5 L722.5,611.5 L724.6,611.6 L726.6,611.6 L728.6,611.7 L730.6,611.7 L732.7,611.8 L734.7,611.9 L736.7,612.0 L738.8,612.1 L740.8,612.2 L742.8,612.4 L744.8,612.5 L746.9,612.7 L748.9,613.0 L750.9,613.2 L752.9,613.6 L755.0,614.0 L757.0,614.6 L759.0,617.2 L759.0,617.2 L757.0,619.7 L755.0,620.2 L752.9,620.5 L750.9,620.8 L748.9,620.9 L746.9,621.1 L744.8,621.2 L742.8,621.2 L740.8,621.3 L738.8,621.3 L736.7,621.3 L734.7,621.3 L732.7,621.3 L730.6,621.3 L728.6,621.2 L726.6,621.2 L724.6,621.1 L722.5,621.1 L720.5,621.0 L718.5,621.0 L716.5,620.9 L714.5,620.9 L712.4,620.8 L710.4,620.8 L708.4,620.7 L706.4,620.7 L704.3,620.6 L702.3,620.5 L700.3,620.4 L698.2,620.3 L696.2,620.2 L694.2,620.0 L692.2,619.9 L690.1,619.7 L688.1,619.4 L686.1,619.2 L684.1,618.8 L682.0,618.4 L680.0,617.8 L678.0,615.2 Z" fill="#303030" opacity="1.0" />
<path d="M766.0,617.2 L768.0,614.8 L769.9,614.3 L771.9,613.9 L773.8,613.7 L775.8,613.5 L777.7,613.4 L779.6,613.3 L781.6,613.2 L783.5,613.1 L785.5,613.1 L787.5,613.1 L789.4,613.1 L791.4,613.1 L793.3,613.1 L795.2,613.1 L797.2,613.1 L799.1,613.1 L801.1,613.1 L803.0,613.2 L805.0,613.2 L807.0,613.2 L808.9,613.3 L810.9,613.3 L812.8,613.3 L814.8,613.4 L816.7,613.4 L818.6,613.5 L820.6,613.5 L822.5,613.6 L824.5,613.7 L826.5,613.8 L828.4,613.9 L830.4,614.1 L832.3,614.2 L834.2,614.4 L836.2,614.7 L838.1,615.0 L840.1,615.4 L842.0,616.0 L844.0,618.4 L844.0,618.4 L842.0,620.8 L840.1,621.3 L838.1,621.7 L836.2,621.9 L834.2,622.1 L832.3,622.2 L830.4,622.3 L828.4,622.4 L826.5,622.5 L824.5,622.5 L822.5,622.5 L820.6,622.5 L818.6,622.5 L816.7,622.5 L814.8,622.5 L812.8,622.5 L810.9,622.5 L808.9,622.5 L807.0,622.4 L805.0,622.4 L803.0,622.4 L801.1,622.3 L799.1,622.3 L797.2,622.3 L795.2,622.2 L793.3,622.2 L791.4,622.1 L789.4,622.1 L787.5,622.0 L785.5,621.9 L783.5,621.8 L781.6,621.7 L779.6,621.5 L777.7,621.4 L775.8,621.2 L773.8,620.9 L771.9,620.6 L769.9,620.2 L768.0,619.6 L766.0,617.2 Z" fill="#333" opacity="1.0" />
<path d="M851.0,617.8 L853.0,615.4 L855.0,614.9 L856.9,614.5 L858.9,614.3 L860.9,614.1 L862.9,614.0 L864.8,613.9 L866.8,613.8 L868.8,613.7 L870.8,613.7 L872.7,613.7 L874.7,613.7 L876.7,613.7 L878.6,613.7 L880.6,613.7 L882.6,613.7 L884.6,613.7 L886.5,613.7 L888.5,613.8 L890.5,613.8 L892.5,613.8 L894.5,613.9 L896.4,613.9 L898.4,613.9 L900.4,614.0 L902.4,614.0 L904.3,614.1 L906.3,614.1 L908.3,614.2 L910.2,614.3 L912.2,614.4 L914.2,614.5 L916.2,614.7 L918.1,614.8 L920.1,615.0 L922.1,615.3 L924.1,615.6 L926.0,616.0 L928.0,616.6 L930.0,619.0 L930.0,619.0 L928.0,621.4 L926.0,621.9 L924.1,622.3 L922.1,622.5 L920.1,622.7 L918.1,622.8 L916.2,622.9 L914.2,623.0 L912.2,623.1 L910.2,623.1 L908.3,623.1 L906.3,623.1 L904.3,623.1 L902.4,623.1 L900.4,623.1 L898.4,623.1 L896.4,623.1 L894.5,623.1 L892.5,623.0 L890.5,623.0 L888.5,623.0 L886.5,622.9 L884.6,622.9 L882.6,622.9 L880.6,622.8 L878.6,622.8 L876.7,622.7 L874.7,622.7 L872.7,622.6 L870.8,622.5 L868.8,622.4 L866.8,622.3 L864.8,622.1 L862.9,622.0 L860.9,621.8 L858.9,621.5 L856.9,621.2 L855.0,620.8 L853.0,620.2 L851.0,617.8 Z" fill="#303030" opacity="1.0" />
<ellipse cx="832" cy="618" rx="9" ry="4" fill="#222" opacity="0.6"/>
<ellipse cx="918" cy="619" rx="9" ry="4" fill="#222" opacity="0.6"/>
<path d="M593,580 L599,580 L599,612 L593,612 Z" fill="#2a2a2a" opacity="0.8"/>
</g></g>
<rect x="594.4" y="579.4" width="341.6" height="1" fill="#b0b0b0" opacity="0.6"/>
<rect x="593.6" y="578.6" width="343.2" height="66.4" fill="none" stroke="#111" stroke-width="1.3"/>
<text x="946.6" y="620.6" font-family="'Liberation Serif', 'Times New Roman', serif" font-size="29.2" font-weight="bold" fill="#000" textLength="73.6" lengthAdjust="spacingAndGlyphs">NFκB</text>
<linearGradient id="gPB" x1="0" y1="0" x2="0" y2="1"><stop offset="0" stop-color="#3e3e3e"/><stop offset="0.55" stop-color="#555"/><stop offset="1" stop-color="#8a8a8a"/></linearGradient>
<linearGradient id="gPB2" x1="0" y1="0" x2="1" y2="0"><stop offset="0" stop-color="#fff" stop-opacity="0.35"/><stop offset="0.5" stop-color="#fff" stop-opacity="0.2"/><stop offset="1" stop-color="#fff" stop-opacity="0"/></linearGradient>
<rect x="594.4" y="660.6" width="342.2" height="49.2" fill="#d9d9d9"/>
<rect x="595" y="661" width="341" height="48" filter="url(#noise1)" opacity="0.22"/>
<g clip-path="url(#cPN)"><g filter="url(#rough)">
<path d="M685.0,690.2 L686.7,685.9 L688.5,685.6 L690.2,685.4 L691.9,685.4 L693.6,685.3 L695.4,685.3 L697.1,685.3 L698.8,685.3 L700.5,685.3 L702.2,685.4 L704.0,685.4 L705.7,685.4 L707.4,685.4 L709.1,685.4 L710.9,685.4 L712.6,685.4 L714.3,685.5 L716.0,685.5 L717.8,685.5 L719.5,685.5 L721.2,685.5 L723.0,685.5 L724.7,685.5 L726.4,685.6 L728.1,685.6 L729.9,685.6 L731.6,685.6 L733.3,685.6 L735.0,685.6 L736.8,685.7 L738.5,685.7 L740.2,685.7 L741.9,685.7 L743.6,685.7 L745.4,685.8 L747.1,685.9 L748.8,685.9 L750.5,686.1 L752.3,686.4 L754.0,690.8 L754.0,690.8 L752.3,695.1 L750.5,695.4 L748.8,695.6 L747.1,695.6 L745.4,695.7 L743.6,695.7 L741.9,695.7 L740.2,695.7 L738.5,695.7 L736.8,695.6 L735.0,695.6 L733.3,695.6 L731.6,695.6 L729.9,695.6 L728.1,695.6 L726.4,695.6 L724.7,695.5 L723.0,695.5 L721.2,695.5 L719.5,695.5 L717.8,695.5 L716.0,695.5 L714.3,695.5 L712.6,695.4 L710.9,695.4 L709.1,695.4 L707.4,695.4 L705.7,695.4 L704.0,695.4 L702.2,695.3 L700.5,695.3 L698.8,695.3 L697.1,695.3 L695.4,695.3 L693.6,695.2 L691.9,695.1 L690.2,695.1 L688.5,694.9 L686.7,694.6 L685.0,690.2 Z" fill="url(#gPB)" opacity="1.0" />
<path d="M768.0,690.0 L769.6,686.0 L771.2,685.7 L772.9,685.6 L774.5,685.6 L776.1,685.5 L777.8,685.5 L779.4,685.5 L781.0,685.5 L782.6,685.5 L784.2,685.6 L785.9,685.6 L787.5,685.6 L789.1,685.6 L790.8,685.6 L792.4,685.6 L794.0,685.6 L795.6,685.7 L797.2,685.7 L798.9,685.7 L800.5,685.7 L802.1,685.7 L803.8,685.7 L805.4,685.7 L807.0,685.8 L808.6,685.8 L810.2,685.8 L811.9,685.8 L813.5,685.8 L815.1,685.8 L816.8,685.9 L818.4,685.9 L820.0,685.9 L821.6,685.9 L823.2,685.9 L824.9,686.0 L826.5,686.0 L828.1,686.1 L829.8,686.3 L831.4,686.6 L833.0,690.6 L833.0,690.6 L831.4,694.6 L829.8,694.9 L828.1,695.0 L826.5,695.0 L824.9,695.1 L823.2,695.1 L821.6,695.1 L820.0,695.1 L818.4,695.1 L816.8,695.0 L815.1,695.0 L813.5,695.0 L811.9,695.0 L810.2,695.0 L808.6,695.0 L807.0,695.0 L805.4,694.9 L803.8,694.9 L802.1,694.9 L800.5,694.9 L798.9,694.9 L797.2,694.9 L795.6,694.9 L794.0,694.8 L792.4,694.8 L790.8,694.8 L789.1,694.8 L787.5,694.8 L785.9,694.8 L784.2,694.7 L782.6,694.7 L781.0,694.7 L779.4,694.7 L777.8,694.7 L776.1,694.6 L774.5,694.6 L772.9,694.5 L771.2,694.3 L769.6,694.0 L768.0,690.0 Z" fill="url(#gPB)" opacity="1.0" />
<path d="M851.0,690.0 L852.7,685.8 L854.4,685.6 L856.0,685.4 L857.7,685.4 L859.4,685.3 L861.0,685.3 L862.7,685.3 L864.4,685.3 L866.1,685.3 L867.8,685.4 L869.4,685.4 L871.1,685.4 L872.8,685.4 L874.5,685.4 L876.1,685.4 L877.8,685.4 L879.5,685.5 L881.1,685.5 L882.8,685.5 L884.5,685.5 L886.2,685.5 L887.9,685.5 L889.5,685.5 L891.2,685.6 L892.9,685.6 L894.5,685.6 L896.2,685.6 L897.9,685.6 L899.6,685.6 L901.2,685.7 L902.9,685.7 L904.6,685.7 L906.3,685.7 L908.0,685.7 L909.6,685.8 L911.3,685.8 L913.0,685.9 L914.6,686.1 L916.3,686.4 L918.0,690.6 L918.0,690.6 L916.3,694.8 L914.6,695.0 L913.0,695.2 L911.3,695.2 L909.6,695.3 L908.0,695.3 L906.3,695.3 L904.6,695.3 L902.9,695.3 L901.2,695.2 L899.6,695.2 L897.9,695.2 L896.2,695.2 L894.5,695.2 L892.9,695.2 L891.2,695.2 L889.5,695.1 L887.9,695.1 L886.2,695.1 L884.5,695.1 L882.8,695.1 L881.1,695.1 L879.5,695.1 L877.8,695.0 L876.1,695.0 L874.5,695.0 L872.8,695.0 L871.1,695.0 L869.4,695.0 L867.8,694.9 L866.1,694.9 L864.4,694.9 L862.7,694.9 L861.0,694.9 L859.4,694.8 L857.7,694.8 L856.0,694.7 L854.4,694.5 L852.7,694.2 L851.0,690.0 Z" fill="url(#gPB)" opacity="1.0" />
<rect x="851" y="684" width="35" height="13" fill="url(#gPB2)"/>
<ellipse cx="627" cy="692" rx="2.2" ry="2.6" fill="#888" opacity="0.8"/>
<ellipse cx="634" cy="691" rx="2" ry="2.2" fill="#999" opacity="0.7"/>
<ellipse cx="641" cy="694" rx="2" ry="2.2" fill="#999" opacity="0.7"/>
<ellipse cx="657" cy="699" rx="2" ry="2.2" fill="#aaa" opacity="0.7"/>
</g></g>
<rect x="595" y="661" width="341" height="48" filter="url(#noise1)" opacity="0.1"/>
<rect x="595.2" y="707.4" width="340.6" height="2" fill="#fafafa"/>
<rect x="595.2" y="661.2" width="340.6" height="1.2" fill="#f4f4f4"/>
<rect x="594.4" y="660.6" width="342.2" height="49.2" fill="none" stroke="#111" stroke-width="1.3"/>
<text x="942.4" y="689.5" font-family="'Liberation Serif', 'Times New Roman', serif" font-size="29.2" font-weight="bold" fill="#000" textLength="98" lengthAdjust="spacingAndGlyphs">p-NFκB</text>
<linearGradient id="gBA" x1="0" y1="0" x2="0" y2="1"><stop offset="0" stop-color="#d8d8d8"/><stop offset="0.45" stop-color="#d0d0d0"/><stop offset="1" stop-color="#c6c6c6"/></linearGradient>
<rect x="593.6" y="725.6" width="343.8" height="60.6" fill="url(#gBA)"/>
<rect x="594" y="726" width="343" height="57" filter="url(#noise2)" opacity="0.2"/>
<g clip-path="url(#cBA)"><g filter="url(#rough2)">
<path d="M590.0,755.0 L592.2,752.1 L594.4,751.4 L596.6,751.0 L598.8,750.7 L601.0,750.5 L603.2,750.3 L605.4,750.2 L607.6,750.1 L609.8,750.0 L612.0,749.9 L614.2,749.9 L616.4,749.9 L618.6,749.9 L620.8,749.9 L623.0,749.9 L625.2,749.9 L627.4,749.9 L629.6,749.9 L631.8,750.0 L634.0,750.0 L636.2,750.0 L638.4,750.1 L640.6,750.1 L642.8,750.1 L645.0,750.2 L647.2,750.2 L649.4,750.3 L651.6,750.4 L653.8,750.4 L656.0,750.5 L658.2,750.7 L660.4,750.8 L662.6,751.0 L664.8,751.2 L667.0,751.4 L669.2,751.7 L671.4,752.0 L673.6,752.5 L675.8,753.2 L678.0,756.2 L678.0,756.2 L675.8,759.1 L673.6,759.8 L671.4,760.2 L669.2,760.5 L667.0,760.7 L664.8,760.9 L662.6,761.0 L660.4,761.1 L658.2,761.2 L656.0,761.3 L653.8,761.3 L651.6,761.3 L649.4,761.3 L647.2,761.3 L645.0,761.3 L642.8,761.3 L640.6,761.3 L638.4,761.3 L636.2,761.2 L634.0,761.2 L631.8,761.2 L629.6,761.1 L627.4,761.1 L625.2,761.1 L623.0,761.0 L620.8,761.0 L618.6,760.9 L616.4,760.8 L614.2,760.8 L612.0,760.7 L609.8,760.5 L607.6,760.4 L605.4,760.2 L603.2,760.0 L601.0,759.8 L598.8,759.5 L596.6,759.2 L594.4,758.7 L592.2,758.0 L590.0,755.0 Z" fill="#262626" opacity="1.0" />
<path d="M670.0,757.0 L672.6,754.5 L675.2,753.9 L677.8,753.6 L680.4,753.3 L683.0,753.1 L685.6,752.9 L688.2,752.8 L690.8,752.7 L693.4,752.6 L696.0,752.6 L698.6,752.5 L701.2,752.5 L703.8,752.5 L706.4,752.5 L709.0,752.5 L711.6,752.5 L714.2,752.5 L716.8,752.5 L719.4,752.5 L722.0,752.5 L724.6,752.5 L727.2,752.5 L729.8,752.6 L732.4,752.6 L735.0,752.6 L737.6,752.6 L740.2,752.7 L742.8,752.7 L745.4,752.8 L748.0,752.9 L750.6,752.9 L753.2,753.1 L755.8,753.2 L758.4,753.3 L761.0,753.5 L763.6,753.8 L766.2,754.1 L768.8,754.5 L771.4,755.1 L774.0,757.6 L774.0,757.6 L771.4,760.1 L768.8,760.7 L766.2,761.0 L763.6,761.3 L761.0,761.5 L758.4,761.7 L755.8,761.8 L753.2,761.9 L750.6,762.0 L748.0,762.0 L745.4,762.1 L742.8,762.1 L740.2,762.1 L737.6,762.1 L735.0,762.1 L732.4,762.1 L729.8,762.1 L727.2,762.1 L724.6,762.1 L722.0,762.1 L719.4,762.1 L716.8,762.1 L714.2,762.0 L711.6,762.0 L709.0,762.0 L706.4,762.0 L703.8,761.9 L701.2,761.9 L698.6,761.8 L696.0,761.7 L693.4,761.7 L690.8,761.5 L688.2,761.4 L685.6,761.3 L683.0,761.1 L680.4,760.8 L677.8,760.5 L675.2,760.1 L672.6,759.5 L670.0,757.0 Z" fill="#404040" opacity="1.0" />
<path d="M760.0,759.0 L762.5,756.4 L765.0,755.8 L767.5,755.4 L770.0,755.1 L772.5,754.9 L775.0,754.7 L777.5,754.6 L780.0,754.5 L782.5,754.4 L785.0,754.3 L787.5,754.3 L790.0,754.2 L792.5,754.2 L795.0,754.2 L797.5,754.2 L800.0,754.2 L802.5,754.2 L805.0,754.2 L807.5,754.2 L810.0,754.2 L812.5,754.2 L815.0,754.2 L817.5,754.2 L820.0,754.3 L822.5,754.3 L825.0,754.3 L827.5,754.3 L830.0,754.4 L832.5,754.4 L835.0,754.5 L837.5,754.6 L840.0,754.7 L842.5,754.8 L845.0,755.0 L847.5,755.2 L850.0,755.4 L852.5,755.7 L855.0,756.1 L857.5,756.8 L860.0,759.4 L860.0,759.4 L857.5,762.0 L855.0,762.6 L852.5,763.0 L850.0,763.3 L847.5,763.5 L845.0,763.7 L842.5,763.8 L840.0,763.9 L837.5,764.0 L835.0,764.1 L832.5,764.1 L830.0,764.2 L827.5,764.2 L825.0,764.2 L822.5,764.2 L820.0,764.2 L817.5,764.2 L815.0,764.2 L812.5,764.2 L810.0,764.2 L807.5,764.2 L805.0,764.2 L802.5,764.2 L800.0,764.1 L797.5,764.1 L795.0,764.1 L792.5,764.1 L790.0,764.0 L787.5,764.0 L785.0,763.9 L782.5,763.8 L780.0,763.7 L777.5,763.6 L775.0,763.4 L772.5,763.2 L770.0,763.0 L767.5,762.7 L765.0,762.3 L762.5,761.6 L760.0,759.0 Z" fill="#444" opacity="1.0" />
<path d="M844.0,759.8 L846.5,757.0 L848.9,756.3 L851.4,755.9 L853.8,755.6 L856.2,755.3 L858.7,755.2 L861.1,755.0 L863.6,754.9 L866.0,754.8 L868.5,754.8 L871.0,754.7 L873.4,754.7 L875.9,754.7 L878.3,754.7 L880.8,754.7 L883.2,754.7 L885.6,754.7 L888.1,754.8 L890.5,754.8 L893.0,754.8 L895.5,754.8 L897.9,754.9 L900.4,754.9 L902.8,754.9 L905.2,755.0 L907.7,755.0 L910.1,755.1 L912.6,755.1 L915.0,755.2 L917.5,755.3 L920.0,755.4 L922.4,755.5 L924.9,755.7 L927.3,755.9 L929.8,756.1 L932.2,756.4 L934.6,756.7 L937.1,757.2 L939.5,757.9 L942.0,760.8 L942.0,760.8 L939.5,763.6 L937.1,764.3 L934.6,764.7 L932.2,765.0 L929.8,765.3 L927.3,765.4 L924.9,765.6 L922.4,765.7 L920.0,765.8 L917.5,765.8 L915.0,765.9 L912.6,765.9 L910.1,765.9 L907.7,765.9 L905.2,765.9 L902.8,765.9 L900.4,765.9 L897.9,765.8 L895.5,765.8 L893.0,765.8 L890.5,765.8 L888.1,765.7 L885.6,765.7 L883.2,765.7 L880.8,765.6 L878.3,765.6 L875.9,765.5 L873.4,765.5 L871.0,765.4 L868.5,765.3 L866.0,765.2 L863.6,765.1 L861.1,764.9 L858.7,764.7 L856.2,764.5 L853.8,764.2 L851.4,763.9 L848.9,763.4 L846.5,762.7 L844.0,759.8 Z" fill="#222" opacity="1.0" />
<ellipse cx="597" cy="754.5" rx="6" ry="5" fill="#111"/>
<ellipse cx="677" cy="755" rx="9" ry="5" fill="#111"/>
<ellipse cx="768" cy="756.3" rx="8" ry="4.4" fill="#111"/>
<ellipse cx="852" cy="757.8" rx="9" ry="5" fill="#111"/>
<ellipse cx="934" cy="759.6" rx="5" ry="4.6" fill="#151515"/>
<ellipse cx="652.6" cy="734.4" rx="2.4" ry="1.2" fill="#1a1a1a"/>
</g></g>
<rect x="594.2" y="782.6" width="343" height="2.8" fill="#fafafa"/>
<rect x="594.2" y="726.2" width="343" height="1" fill="#f2f2f2"/>
<rect x="593.6" y="725.6" width="343.8" height="60.6" fill="none" stroke="#111" stroke-width="1.3"/>
<text x="947.6" y="760" font-family="'Liberation Serif', 'Times New Roman', serif" font-size="29.2" font-weight="bold" fill="#000" textLength="85" lengthAdjust="spacingAndGlyphs">β-actin</text>
<rect x="1101.4" y="437" width="429.5999999999999" height="372.4" fill="none" stroke="#161616" stroke-width="1.6"/>
<text x="1075.2" y="435.7" font-family="'Liberation Sans', Arial, sans-serif" font-size="25.7" font-weight="bold" fill="#000">G</text>
<text x="1311.8" y="477" font-family="'Liberation Sans', Arial, sans-serif" font-size="22.4" font-weight="bold" fill="#000" textLength="50.4" lengthAdjust="spacingAndGlyphs" stroke="#000" stroke-width="0.25">NFκB</text>
<line x1="1189.4" y1="502.22" x2="1189.4" y2="733" stroke="#000" stroke-width="3.2" stroke-linecap="butt"/>
<line x1="1184" y1="731.5" x2="1189.4" y2="731.5" stroke="#000" stroke-width="2.6" stroke-linecap="butt"/>
<text x="1182.2" y="735.7" font-family="'Liberation Sans', Arial, sans-serif" font-size="15.8" font-weight="bold" fill="#000" text-anchor="end" textLength="19" lengthAdjust="spacingAndGlyphs">0.2</text>
<line x1="1184" y1="674.53" x2="1189.4" y2="674.53" stroke="#000" stroke-width="2.6" stroke-linecap="butt"/>
<text x="1182.2" y="678.73" font-family="'Liberation Sans', Arial, sans-serif" font-size="15.8" font-weight="bold" fill="#000" text-anchor="end" textLength="19" lengthAdjust="spacingAndGlyphs">0.4</text>
<line x1="1184" y1="617.5600000000001" x2="1189.4" y2="617.5600000000001" stroke="#000" stroke-width="2.6" stroke-linecap="butt"/>
<text x="1182.2" y="621.7600000000001" font-family="'Liberation Sans', Arial, sans-serif" font-size="15.8" font-weight="bold" fill="#000" text-anchor="end" textLength="19" lengthAdjust="spacingAndGlyphs">0.6</text>
<line x1="1184" y1="560.5899999999999" x2="1189.4" y2="560.5899999999999" stroke="#000" stroke-width="2.6" stroke-linecap="butt"/>
<text x="1182.2" y="564.79" font-family="'Liberation Sans', Arial, sans-serif" font-size="15.8" font-weight="bold" fill="#000" text-anchor="end" textLength="19" lengthAdjust="spacingAndGlyphs">0.8</text>
<line x1="1184" y1="503.62" x2="1189.4" y2="503.62" stroke="#000" stroke-width="2.6" stroke-linecap="butt"/>
<text x="1182.2" y="507.82" font-family="'Liberation Sans', Arial, sans-serif" font-size="15.8" font-weight="bold" fill="#000" text-anchor="end" textLength="19" lengthAdjust="spacingAndGlyphs">1.0</text>
<line x1="1184" y1="731.5" x2="1487" y2="731.5" stroke="#000" stroke-width="3.2" stroke-linecap="butt"/>
<rect x="1200.4" y="695" width="52.6" height="36.5" fill="#000"/>
<rect x="1214" y="692.5" width="25" height="4" fill="#000"/>
<rect x="1277.1" y="506.0" width="47.8" height="225.5" fill="#808080" stroke="#000" stroke-width="3.2"/>
<rect x="1279.20" y="508.10" width="43.60" height="222.40" fill="none" stroke="#fff" stroke-opacity="0.35" stroke-width="1"/>
<rect x="1361.1" y="521.92" width="26.4" height="3.58" fill="#000"/>
<rect x="1350.4" y="526.6" width="47.8" height="204.9" fill="#d3d3d3" stroke="#000" stroke-width="3.2"/>
<rect x="1352.50" y="528.70" width="43.60" height="201.80" fill="none" stroke="#fff" stroke-opacity="0.35" stroke-width="1"/>
<line x1="1448.6" y1="549" x2="1448.6" y2="546" stroke="#000" stroke-width="1.8" stroke-linecap="butt"/>
<line x1="1435.6" y1="546" x2="1461.6" y2="546" stroke="#000" stroke-width="2.16" stroke-linecap="butt"/>
<rect x="1424.4" y="550.6" width="48.4" height="180.9" fill="#636363" stroke="#000" stroke-width="3.2"/>
<rect x="1426.50" y="552.70" width="44.20" height="177.80" fill="none" stroke="#fff" stroke-opacity="0.35" stroke-width="1"/>
<line x1="1226" y1="731.5" x2="1226" y2="738.8" stroke="#000" stroke-width="2.6" stroke-linecap="butt"/>
<line x1="1299.4" y1="731.5" x2="1299.4" y2="738.8" stroke="#000" stroke-width="2.6" stroke-linecap="butt"/>
<line x1="1374" y1="731.5" x2="1374" y2="738.8" stroke="#000" stroke-width="2.6" stroke-linecap="butt"/>
<line x1="1448" y1="731.5" x2="1448" y2="738.8" stroke="#000" stroke-width="2.6" stroke-linecap="butt"/>
<text x="1443.6" y="531.4" font-family="'Liberation Sans', Arial, sans-serif" font-size="12" font-weight="bold" fill="#000" text-anchor="middle">*</text>
<text transform="translate(1225.8,752.4) scale(0.75,1)" x="0" y="0" font-family="'Liberation Sans', Arial, sans-serif" font-size="16.2" font-weight="bold" fill="#000" text-anchor="middle" textLength="68.80" lengthAdjust="spacing">Control</text>
<text transform="translate(1299.2,752.4) scale(0.75,1)" x="0" y="0" font-family="'Liberation Sans', Arial, sans-serif" font-size="16.2" font-weight="bold" fill="#000" text-anchor="middle" textLength="35.20" lengthAdjust="spacing">LPS</text>
<text x="1374.2" y="752.4" font-family="'Liberation Sans', Arial, sans-serif" font-size="16.2" font-weight="bold" fill="#000" text-anchor="middle" textLength="19.6" lengthAdjust="spacingAndGlyphs">2.5</text>
<text x="1448.1" y="752.4" font-family="'Liberation Sans', Arial, sans-serif" font-size="16.2" font-weight="bold" fill="#000" text-anchor="middle" textLength="7.2" lengthAdjust="spacingAndGlyphs">5</text>
<line x1="1353" y1="764.5" x2="1478.4" y2="764.5" stroke="#000" stroke-width="1.3" stroke-linecap="butt"/>
<text x="1372" y="786.5" font-family="'Liberation Sans', Arial, sans-serif" font-size="20.6" font-weight="normal" fill="#000" textLength="87" lengthAdjust="spacingAndGlyphs">BSE (µg/ml)</text>
<text transform="translate(1136,720.2) rotate(-90) scale(0.86,1)" x="0" y="0" font-family="'Liberation Sans', Arial, sans-serif" font-size="20" font-weight="bold" fill="#000" textLength="240.70" lengthAdjust="spacing">Fold Change compared</text>
<text transform="translate(1153.8,704.8) rotate(-90) scale(0.86,1)" x="0" y="0" font-family="'Liberation Sans', Arial, sans-serif" font-size="20" font-weight="bold" fill="#000" textLength="203.95" lengthAdjust="spacing">to LPS treated cells</text>
</svg></body></html>
